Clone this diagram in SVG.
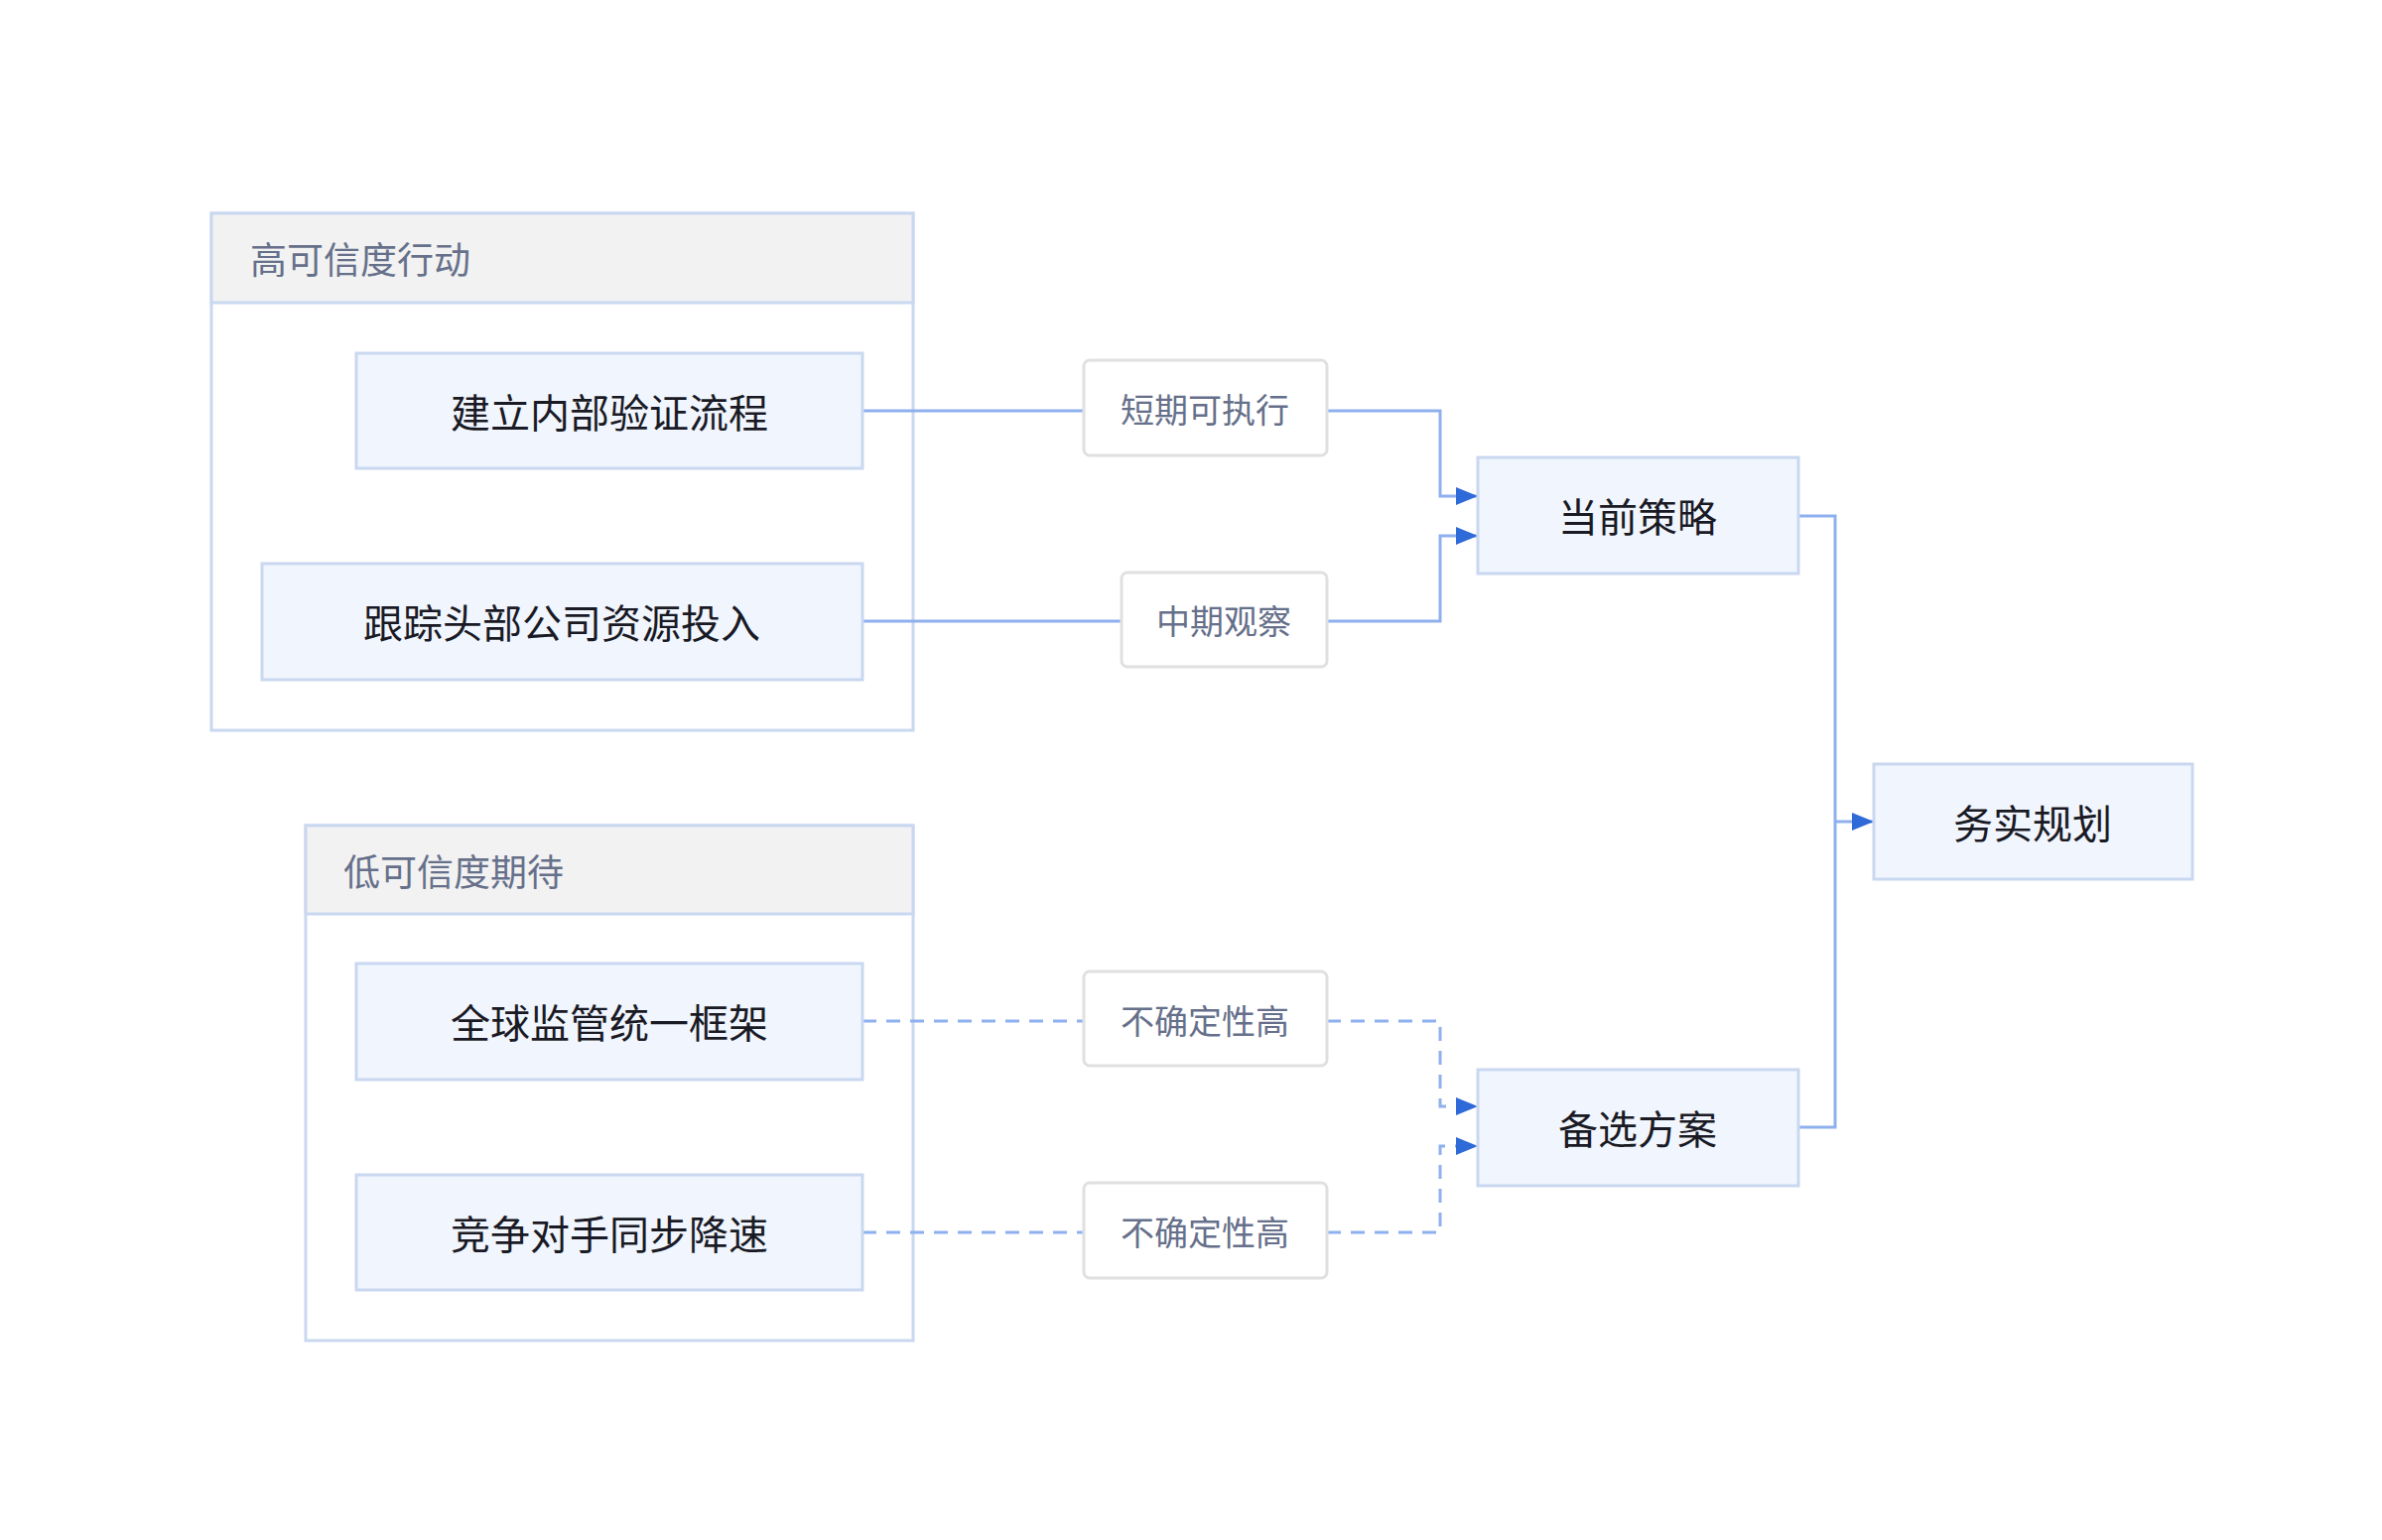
<svg xmlns="http://www.w3.org/2000/svg" width="2400" height="1552" viewBox="0 0 2400 1552">
<style>
text{font-family:"Noto Sans CJK SC","Noto Sans",sans-serif;dominant-baseline:central}
.grp{fill:#fff;stroke:#c9d8f0;stroke-width:3}
.hdr{fill:#f2f2f2;stroke:#c9d8f0;stroke-width:3}
.gt{font-size:37px;fill:#66708a}
.node{fill:#f0f5fe;stroke:#c9d8f0;stroke-width:3}
.nt{font-size:40px;fill:#1a1a24;text-anchor:middle}
.lbl{fill:#fff;stroke:#e0e0e0;stroke-width:3}
.lt{font-size:34px;fill:#66708a;text-anchor:middle}
.e{fill:none;stroke:#8eb0ee;stroke-width:3}
.d{stroke-dasharray:14 10}
</style>
<defs><marker id="a" markerWidth="10" markerHeight="10" refX="9" refY="5" orient="auto" markerUnits="userSpaceOnUse" viewBox="0 0 10 10"><path d="M0,0L10,5L0,10z" fill="#2f6ad9"/></marker>
<marker id="ar" viewBox="0 0 10 10" refX="10" refY="5" markerWidth="22" markerHeight="18" orient="auto" markerUnits="userSpaceOnUse" preserveAspectRatio="none"><path d="M0,0L10,5L0,10z" fill="#2f6ad9"/></marker></defs>
<g id="g1"><rect class="grp" x="213" y="215" width="707" height="521"/><rect class="hdr" x="213" y="215" width="707" height="90"/><text class="gt" x="252" y="260">高可信度行动</text></g>
<g id="g2"><rect class="grp" x="308" y="832" width="612" height="519"/><rect class="hdr" x="308" y="832" width="612" height="89"/><text class="gt" x="346" y="877">低可信度期待</text></g>
<g id="edges">
<path class="e" d="M869,414H1092"/><path class="e" d="M1337,414H1451V500H1489" marker-end="url(#ar)"/>
<path class="e" d="M869,626H1130"/><path class="e" d="M1337,626H1451V540H1489" marker-end="url(#ar)"/>
<path class="e d" d="M869,1029H1092"/><path class="e d" d="M1337,1029H1451V1115H1489" marker-end="url(#ar)"/>
<path class="e d" d="M869,1242H1092"/><path class="e d" d="M1337,1242H1451V1155H1489" marker-end="url(#ar)"/>
<path class="e" d="M1812,520H1849V1136H1812"/><path class="e" d="M1849,828H1888" marker-end="url(#ar)"/>
</g>
<g id="n1"><rect class="node" x="359" y="356" width="510" height="116"/><text class="nt" x="614" y="414">建立内部验证流程</text></g>
<g id="n2"><rect class="node" x="264" y="568" width="605" height="117"/><text class="nt" x="566" y="626">跟踪头部公司资源投入</text></g>
<g id="n3"><rect class="node" x="359" y="971" width="510" height="117"/><text class="nt" x="614" y="1029">全球监管统一框架</text></g>
<g id="n4"><rect class="node" x="359" y="1184" width="510" height="116"/><text class="nt" x="614" y="1242">竞争对手同步降速</text></g>
<g id="l1"><rect class="lbl" x="1092" y="363" width="245" height="96" rx="6"/><text class="lt" x="1214" y="411">短期可执行</text></g>
<g id="l2"><rect class="lbl" x="1130" y="577" width="207" height="95" rx="6"/><text class="lt" x="1233" y="624">中期观察</text></g>
<g id="l3"><rect class="lbl" x="1092" y="979" width="245" height="95" rx="6"/><text class="lt" x="1214" y="1027">不确定性高</text></g>
<g id="l4"><rect class="lbl" x="1092" y="1192" width="245" height="96" rx="6"/><text class="lt" x="1214" y="1240">不确定性高</text></g>
<g id="n5"><rect class="node" x="1489" y="461" width="323" height="117"/><text class="nt" x="1650" y="519">当前策略</text></g>
<g id="n6"><rect class="node" x="1489" y="1078" width="323" height="117"/><text class="nt" x="1650" y="1136">备选方案</text></g>
<g id="n7"><rect class="node" x="1888" y="770" width="321" height="116"/><text class="nt" x="2048" y="828">务实规划</text></g>
</svg>
